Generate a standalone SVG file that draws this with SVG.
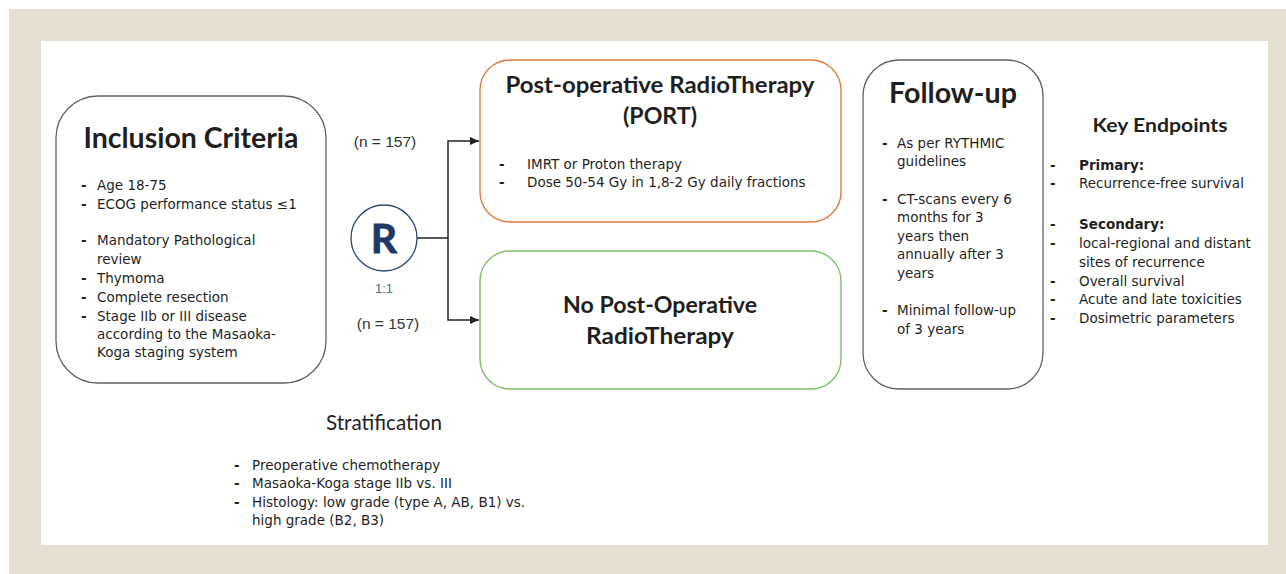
<svg xmlns="http://www.w3.org/2000/svg" width="1286" height="574" viewBox="0 0 1286 574">
<style>
.title{font-family:Lato,"Open Sans",sans-serif;font-weight:bold;fill:#1f1f1f;text-anchor:middle}
.body{font-family:"DejaVu Sans",Verdana,sans-serif;font-size:13.5px;fill:#1f1f1f}
.d{font-weight:bold}
.n{font-family:"Liberation Sans",Arial,sans-serif;font-size:15.5px;fill:#333;text-anchor:middle}
.box{fill:#fff;stroke:#606060;stroke-width:1.3}
.conn{fill:none;stroke:#222;stroke-width:1.5}
</style>
<defs>
<marker id="ah" markerWidth="10" markerHeight="10" refX="9" refY="5" orient="auto" markerUnits="userSpaceOnUse">
<path d="M0,1 L9,5 L0,9 Z" fill="#222"/>
</marker>
</defs>
<rect x="9" y="9" width="1277" height="565" fill="#e5dfd2"/>
<rect x="41" y="41" width="1227" height="504" fill="#fff"/>

<g id="inclusion">
<rect class="box" x="56" y="96" width="270" height="287" rx="42"/>
<text class="title" x="191" y="148" font-size="29" textLength="215" lengthAdjust="spacingAndGlyphs">Inclusion Criteria</text>
<g class="body">
<text class="d" x="81" y="190">-</text><text x="97" y="190">Age 18-75</text>
<text class="d" x="81" y="209">-</text><text x="97" y="209">ECOG performance status ≤1</text>
<text class="d" x="81" y="245">-</text><text x="97" y="245">Mandatory Pathological</text>
<text x="97" y="264">review</text>
<text class="d" x="81" y="283">-</text><text x="97" y="283">Thymoma</text>
<text class="d" x="81" y="302">-</text><text x="97" y="302">Complete resection</text>
<text class="d" x="81" y="321">-</text><text x="97" y="321">Stage IIb or III disease</text>
<text x="97" y="339">according to the Masaoka-</text>
<text x="97" y="357">Koga staging system</text>
</g>
</g>

<g id="randomization">
<circle cx="384" cy="238" r="33" fill="#fff" stroke="#2a4478" stroke-width="1.3"/>
<text x="384" y="253" font-family="Lato,sans-serif" font-weight="bold" font-size="41" fill="#1f3864" stroke="#1f3864" stroke-width="0.8" text-anchor="middle">R</text>
<text x="384" y="293" font-family="Liberation Sans,Arial,sans-serif" font-size="13" fill="#666" text-anchor="middle">1:1</text>
</g>

<g id="n-labels">
<text class="n" x="385" y="147">(n = 157)</text>
<text class="n" x="388" y="329">(n = 157)</text>
</g>

<g id="connectors">
<path class="conn" d="M417,238 H448"/>
<path class="conn" d="M448,238 V141 H479" marker-end="url(#ah)"/>
<path class="conn" d="M448,238 V320 H479" marker-end="url(#ah)"/>
</g>

<g id="port">
<rect x="480" y="60" width="361" height="162" rx="30" fill="#fff" stroke="#e07b3c" stroke-width="1.4"/>
<text class="title" x="660" y="93" font-size="22" textLength="309" lengthAdjust="spacingAndGlyphs">Post-operative RadioTherapy</text>
<text class="title" x="660" y="124" font-size="22" textLength="74" lengthAdjust="spacingAndGlyphs">(PORT)</text>
<g class="body">
<text class="d" x="499" y="169">-</text><text x="527" y="169">IMRT or Proton therapy</text>
<text class="d" x="499" y="187">-</text><text x="527" y="187">Dose 50-54 Gy in 1,8-2 Gy daily fractions</text>
</g>
</g>

<g id="noport">
<rect x="480" y="251" width="361" height="138" rx="30" fill="#fff" stroke="#7cc264" stroke-width="1.4"/>
<text class="title" x="660" y="313" font-size="22" textLength="194" lengthAdjust="spacingAndGlyphs">No Post-Operative</text>
<text class="title" x="660" y="344" font-size="22" textLength="148" lengthAdjust="spacingAndGlyphs">RadioTherapy</text>
</g>

<g id="followup">
<rect class="box" x="863" y="60" width="180" height="329" rx="36"/>
<text class="title" x="953" y="103" font-size="28" textLength="128" lengthAdjust="spacingAndGlyphs">Follow-up</text>
<g class="body">
<text class="d" x="882" y="148">-</text><text x="897" y="148">As per RYTHMIC</text>
<text x="897" y="166">guidelines</text>
<text class="d" x="882" y="204">-</text><text x="897" y="204">CT-scans every 6</text>
<text x="897" y="222">months for 3</text>
<text x="897" y="241">years then</text>
<text x="897" y="259">annually after 3</text>
<text x="897" y="278">years</text>
<text class="d" x="882" y="315">-</text><text x="897" y="315">Minimal follow-up</text>
<text x="897" y="334">of 3 years</text>
</g>
</g>

<g id="endpoints">
<text class="title" x="1160" y="132" font-size="19" textLength="135" lengthAdjust="spacingAndGlyphs">Key Endpoints</text>
<g class="body">
<text class="d" x="1050" y="170">-</text><text x="1079" y="170" font-weight="bold">Primary:</text>
<text class="d" x="1050" y="188">-</text><text x="1079" y="188">Recurrence-free survival</text>
<text class="d" x="1050" y="229">-</text><text x="1079" y="229" font-weight="bold">Secondary:</text>
<text class="d" x="1050" y="248">-</text><text x="1079" y="248">local-regional and distant</text>
<text x="1079" y="267">sites of recurrence</text>
<text class="d" x="1050" y="286">-</text><text x="1079" y="286">Overall survival</text>
<text class="d" x="1050" y="304">-</text><text x="1079" y="304">Acute and late toxicities</text>
<text class="d" x="1050" y="323">-</text><text x="1079" y="323">Dosimetric parameters</text>
</g>
</g>

<g id="stratification">
<text x="384" y="430" font-family="Lato,sans-serif" font-size="21" fill="#1f1f1f" text-anchor="middle" textLength="116" lengthAdjust="spacingAndGlyphs">Stratification</text>
<g class="body">
<text class="d" x="234" y="470">-</text><text x="252" y="470">Preoperative chemotherapy</text>
<text class="d" x="234" y="488">-</text><text x="252" y="488">Masaoka-Koga stage IIb vs. III</text>
<text class="d" x="234" y="507">-</text><text x="252" y="507">Histology: low grade (type A, AB, B1) vs.</text>
<text x="252" y="525">high grade (B2, B3)</text>
</g>
</g>
</svg>
